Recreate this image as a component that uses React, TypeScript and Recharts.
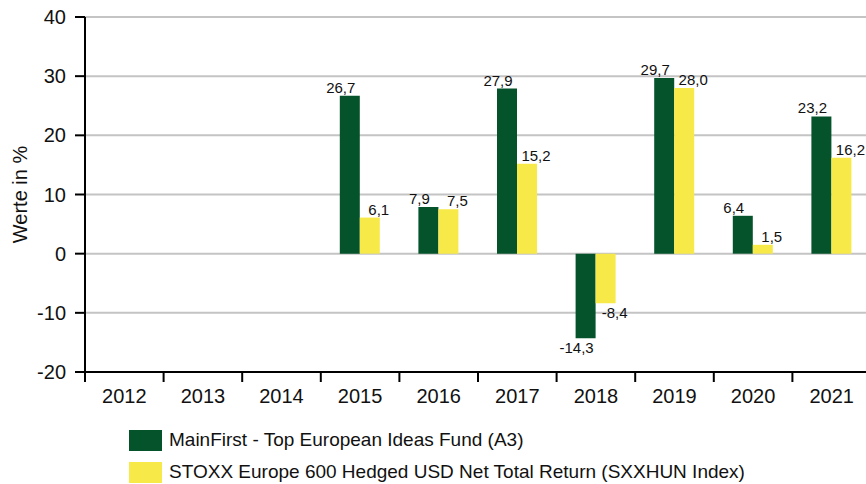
import React from "react";
import { BarChart, Bar, XAxis, YAxis, CartesianGrid, Legend, LabelList, Label } from "recharts";

// Jahreswerte in %
const years = ["2012", "2013", "2014", "2015", "2016", "2017", "2018", "2019", "2020", "2021"];
const fundValues = [null, null, null, 26.7, 7.9, 27.9, -14.3, 29.7, 6.4, 23.2];
const indexValues = [null, null, null, 6.1, 7.5, 15.2, -8.4, 28.0, 1.5, 16.2];
const yTicks = [-20, -10, 0, 10, 20, 30, 40];

const FUND_NAME = "MainFirst - Top European Ideas Fund (A3)";
const INDEX_NAME = "STOXX Europe 600 Hedged USD Net Total Return (SXXHUN Index)";
const GREEN = "#04532B";
const YELLOW = "#F7EA48";
const FONT = "'Liberation Sans', Arial, sans-serif";

const data = years.map((year, i) => ({
  year,
  fund: fundValues[i],
  index: indexValues[i],
}));

const fmt = (v: number) => v.toFixed(1).replace(".", ",");

// value label shifted left (fund) or right (index) from the bar centre
const makeLabel = (shift: number) => (props: any) => {
  const { x, y, width, height, value } = props;
  if (value == null) return null;
  const top = Math.min(y, y + height);
  const bottom = Math.max(y, y + height);
  const cx = x + width / 2 + shift;
  const ty = value >= 0 ? top - 3 : bottom + 15;
  return (
    <text x={cx} y={ty} textAnchor="middle" fontSize={15} fontFamily={FONT} fill="#111">
      {fmt(value)}
    </text>
  );
};

// year label centred, tick mark at the left edge of each category
const YearTick = (props: any) => {
  const { x, y, payload } = props;
  const half = payload.offset ?? 39.3;
  return (
    <g>
      <line x1={x - half} x2={x - half} y1={y - 8} y2={y + 2} stroke="#000" strokeWidth={2} />
      <text x={x} y={y + 23} textAnchor="middle" fontSize={20} fontFamily={FONT} fill="#111">
        {payload.value}
      </text>
    </g>
  );
};

const LegendBox = () => (
  <div style={{ fontFamily: FONT, fontSize: 19, color: "#111", height: 72, boxSizing: "border-box", paddingTop: 12 }}>
    {[
      { name: FUND_NAME, color: GREEN },
      { name: INDEX_NAME, color: YELLOW },
    ].map((item) => (
      <div key={item.name} style={{ display: "flex", alignItems: "center", height: 32, whiteSpace: "nowrap" }}>
        <span style={{ display: "inline-block", width: 33, height: 21, background: item.color, marginRight: 7 }} />
        <span>{item.name}</span>
      </div>
    ))}
  </div>
);

export default function App() {
  return (
    <div style={{ position: "absolute", left: 0, top: 0, width: 866, height: 484, overflow: "hidden", background: "#fff" }}>
      <BarChart
        width={871}
        height={484}
        data={data}
        margin={{ top: 17, right: 0, left: 0, bottom: 0 }}
        barGap={0}
        barSize={20}
      >
        <CartesianGrid horizontal vertical={false} stroke="#C4C4C4" strokeWidth={2} />
        <XAxis
          dataKey="year"
          axisLine={{ stroke: "#000", strokeWidth: 2 }}
          tickLine={false}
          tick={<YearTick />}
          height={40}
          interval={0}
        />
        <YAxis
          domain={[-20, 40]}
          ticks={yTicks}
          width={85}
          interval={0}
          axisLine={{ stroke: "#000", strokeWidth: 2 }}
          tickLine={{ stroke: "#000", strokeWidth: 2 }}
          tickSize={10}
          tickMargin={9}
          tick={{ fontSize: 20, fontFamily: FONT, fill: "#111" }}
        >
          <Label
            value="Werte in %"
            angle={-90}
            position="insideLeft"
            offset={22}
            dx={-2}
            style={{ fontSize: 20, fontFamily: FONT, fill: "#111", textAnchor: "middle" }}
          />
        </YAxis>
        <Legend
          verticalAlign="bottom"
          align="left"
          height={72}
          wrapperStyle={{ left: 129, width: 737 }}
          content={<LegendBox />}
        />
        <Bar dataKey="fund" name={FUND_NAME} fill={GREEN} isAnimationActive={false}>
          <LabelList dataKey="fund" content={makeLabel(-9)} />
        </Bar>
        <Bar dataKey="index" name={INDEX_NAME} fill={YELLOW} isAnimationActive={false}>
          <LabelList dataKey="index" content={makeLabel(9)} />
        </Bar>
      </BarChart>
    </div>
  );
}
